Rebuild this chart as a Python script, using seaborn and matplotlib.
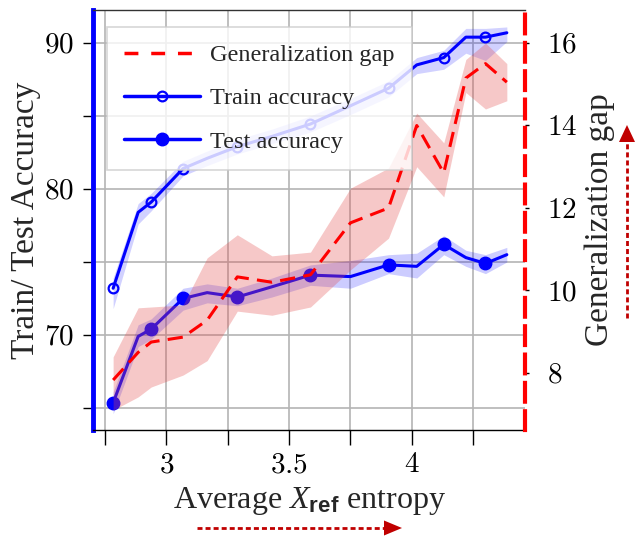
import matplotlib
matplotlib.use("Agg")
import matplotlib.pyplot as plt
import seaborn as sns
from matplotlib.lines import Line2D
from matplotlib.patches import Polygon
from matplotlib.ticker import FixedLocator, FixedFormatter

# ---------------- data ----------------
entropy = [2.783, 2.885, 2.938, 3.068, 3.166, 3.289, 3.43, 3.587, 3.75, 3.905, 4.02, 4.13, 4.22, 4.30, 4.387]

train_acc = [73.2, 78.4, 79.1, 81.4, 82.1, 82.9, 83.6, 84.45, 85.7, 86.9, 88.5, 89.0, 90.4, 90.4, 90.7]
train_lo = [71.8, 77.6, 78.5, 80.9, 81.6, 82.4, 83.1, 83.9, 85.1, 86.3, 87.9, 88.2, 89.3, 88.8, 90.1]
train_hi = [73.9, 79.0, 79.7, 81.9, 82.6, 83.4, 84.1, 85.0, 86.2, 87.4, 89.0, 89.5, 91.0, 91.0, 91.1]

test_acc = [65.35, 69.9, 70.4, 72.5, 72.9, 72.6, 73.3, 74.1, 74.0, 74.8, 74.7, 76.2, 75.3, 74.9, 75.5]
test_lo = [64.6, 69.2, 69.7, 71.7, 72.2, 72.0, 72.6, 73.4, 73.2, 74.2, 73.9, 75.5, 74.7, 74.2, 75.0]
test_hi = [66.1, 70.7, 71.1, 73.2, 73.5, 73.2, 73.9, 74.8, 75.1, 75.5, 75.6, 76.8, 75.8, 75.5, 76.0]

gap = [7.83, 8.5, 8.75, 8.87, 9.28, 10.33, 10.2, 10.38, 11.64, 12.0, 14.0, 12.85, 15.15, 15.5, 15.05]
gap_lo = [7.1, 7.42, 7.66, 7.95, 8.3, 9.5, 9.4, 9.6, 10.5, 11.27, 13.0, 12.27, 14.8, 14.4, 14.6]
gap_hi = [8.39, 9.58, 9.6, 9.65, 10.79, 11.35, 10.84, 10.93, 12.48, 12.97, 14.3, 13.58, 15.6, 16.0, 15.5]

marker_idx = [0, 2, 3, 5, 7, 9, 11, 13]

x_ticks = [2.75, 3.0, 3.25, 3.5, 3.75, 4.0, 4.25]
x_tick_labels = ["", "3", "", "3.5", "", "4", ""]
y_ticks = [65, 70, 75, 80, 85, 90]
y_tick_labels = ["", "70", "", "80", "", "90"]
gap_ticks = [8, 10, 12, 14, 16]
gap_tick_labels = ["8", "10", "12", "14", "16"]

legend_labels = ["Generalization gap", "Train accuracy", "Test accuracy"]

# ---------------- style ----------------
sns.set_style("white")
plt.rcParams["font.family"] = ["Liberation Serif", "DejaVu Serif"]
plt.rcParams["mathtext.fontset"] = "cm"
plt.rcParams["mathtext.rm"] = "Liberation Serif"
plt.rcParams["mathtext.it"] = "Liberation Serif:italic"
plt.rcParams["mathtext.sf"] = "Liberation Sans:bold"

W, H = 635, 536
fig = plt.figure(figsize=(W / 100, H / 100), dpi=100)
ax = fig.add_axes([93 / W, 1 - 430 / H, (525 - 93) / W, (430 - 10) / H])
ax2 = ax.twinx()

BLUE = "#0000ff"
RED = "#ff0000"

# bands + lines on the accuracy axis
ax.fill_between(entropy, train_lo, train_hi, color=BLUE, alpha=0.18, lw=0)
ax.fill_between(entropy, test_lo, test_hi, color=BLUE, alpha=0.2, lw=0)
sns.lineplot(x=entropy, y=train_acc, ax=ax, color=BLUE, lw=2.2, marker="o",
             markersize=7, markevery=marker_idx, markerfacecolor="none",
             markeredgecolor=BLUE, markeredgewidth=1.6, errorbar=None, sort=False)
sns.lineplot(x=entropy, y=test_acc, ax=ax, color=BLUE, lw=2.2, marker="o",
             markersize=9, markevery=marker_idx, markerfacecolor=BLUE,
             markeredgecolor=BLUE, markeredgewidth=1, errorbar=None, sort=False)

# generalization gap on the twin axis
ax2.fill_between(entropy, gap_lo, gap_hi, color="#e34a4a", alpha=0.3, lw=0)
sns.lineplot(x=entropy, y=gap, ax=ax2, color=RED, lw=2.2,
             linestyle=(0, (5, 2.7)), errorbar=None, sort=False)

# limits
ax.set_xlim(2.701, 4.461)
ax.set_ylim(63.49, 92.26)
ax2.set_ylim(6.618, 16.8)

# ticks
ax.xaxis.set_major_locator(FixedLocator(x_ticks))
ax.xaxis.set_major_formatter(FixedFormatter([f"${s}$" if s else "" for s in x_tick_labels]))
ax.yaxis.set_major_locator(FixedLocator(y_ticks))
ax.yaxis.set_major_formatter(FixedFormatter([f"${s}$" if s else "" for s in y_tick_labels]))
ax2.yaxis.set_major_locator(FixedLocator(gap_ticks))
ax2.yaxis.set_major_formatter(FixedFormatter([f"${s}$" for s in gap_tick_labels]))

ax.tick_params(axis="x", length=11, width=1, direction="out", pad=5, labelsize=21,
               colors="black", bottom=True)
ax.tick_params(axis="y", length=7, width=1, direction="out", pad=7, labelsize=21,
               colors="black", left=True)
ax2.tick_params(axis="y", length=3, width=1, direction="out", pad=13, labelsize=21,
                colors="black", right=True)

# grid
ax.grid(True, color="#b4b4b4", lw=1.2)
ax.set_axisbelow(True)
ax2.grid(False)

# spines
ax.spines["left"].set_color(BLUE)
ax.spines["left"].set_linewidth(3.5)
ax.spines["right"].set_visible(False)
ax.spines["top"].set_color("#333333")
ax.spines["top"].set_linewidth(1.0)
ax.spines["bottom"].set_color("black")
ax.spines["bottom"].set_linewidth(1.0)
for s in ["left", "top", "bottom"]:
    ax2.spines[s].set_visible(False)
ax2.spines["right"].set_visible(True)
ax2.spines["right"].set_color(RED)
ax2.spines["right"].set_linewidth(3)
ax2.spines["right"].set_linestyle((0, (4.5, 2.3)))

# labels
ax.set_ylabel("Train/ Test Accuracy", fontsize=24)
ax.yaxis.label.set(va="center", ha="center", rotation_mode="anchor")
ax.yaxis.set_label_coords((26 - 93) / 432, 0.5)
ax2.set_ylabel("Generalization gap", fontsize=24, rotation=90)
ax2.yaxis.label.set(va="center", ha="center", rotation_mode="anchor")
ax2.yaxis.set_label_coords((600 - 93) / 432, 0.5)
ax.set_xlabel(r"Average $X_{\mathsf{ref}}$ entropy", fontsize=23, math_fontfamily="custom")
ax.xaxis.label.set(va="baseline")
ax.xaxis.set_label_coords(0.5, (430 - 508) / 420)

# legend
handles = [
    Line2D([], [], color=RED, lw=2.5, linestyle=(0, (4.0, 3.7))),
    Line2D([], [], color=BLUE, lw=2.5, marker="o", markersize=7,
           markerfacecolor="none", markeredgecolor=BLUE, markeredgewidth=1.6),
    Line2D([], [], color=BLUE, lw=2.5, marker="o", markersize=9,
           markerfacecolor=BLUE, markeredgecolor=BLUE),
]
leg = ax2.legend(handles, legend_labels, loc="upper left", bbox_to_anchor=(0.0324, 0.960),
                 borderaxespad=0, fontsize=17.5, frameon=True, fancybox=False,
                 edgecolor="#cccccc", framealpha=0.8, handlelength=3.1,
                 handletextpad=0.42, labelspacing=0.87, borderpad=0.72)
leg.get_frame().set_linewidth(1.2)

# direction arrows (figure pixel coordinates)
def fx(px):
    return px / W

def fy(py):
    return 1 - py / H

ARROW = "#c00000"
fig.add_artist(Line2D([fx(197), fx(386)], [fy(528), fy(528)], transform=fig.transFigure,
                      color=ARROW, lw=2, linestyle=(0, (1.8, 1.1))))
fig.add_artist(Polygon([(fx(384), fy(520.5)), (fx(402), fy(528)), (fx(384), fy(535.5))],
                       closed=True, transform=fig.transFigure, color=ARROW, lw=0))
fig.add_artist(Line2D([fx(627), fx(627)], [fy(318), fy(140)], transform=fig.transFigure,
                      color=ARROW, lw=2, linestyle=(0, (1.8, 1.1))))
fig.add_artist(Polygon([(fx(619), fy(142)), (fx(627), fy(125)), (fx(635), fy(142))],
                       closed=True, transform=fig.transFigure, color=ARROW, lw=0))

fig.savefig("out.png", dpi=100)
